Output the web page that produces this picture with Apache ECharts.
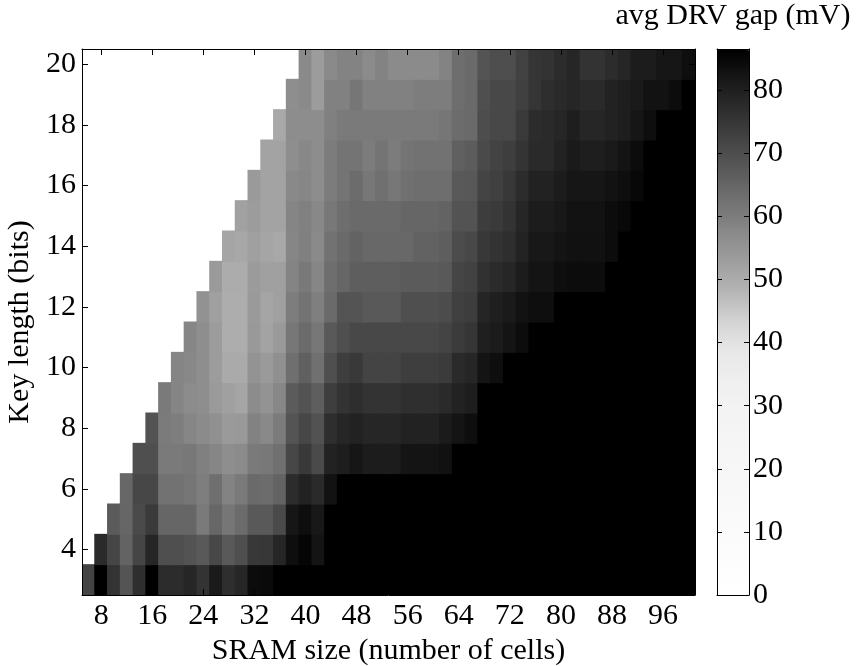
<!DOCTYPE html>
<html>
<head>
<meta charset="utf-8">
<title>avg DRV gap</title>
<script src="https://cdn.jsdelivr.net/npm/echarts@6/dist/echarts.min.js"></script>
<style>
  html, body { margin: 0; padding: 0; background: #fff; }
  #chart { width: 859px; height: 666px; }
</style>
</head>
<body>
<div id="chart"></div>
<script>
// SRAM size (number of cells) at each column centre
const sramSizes = [6, 8, 10, 12, 14, 16, 18, 20, 22, 24, 26, 28, 30, 32, 34, 36, 38, 40,
  42, 44, 46, 48, 50, 52, 54, 56, 58, 60, 62, 64, 66, 68, 70, 72, 74, 76, 78, 80,
  82, 84, 86, 88, 90, 92, 94, 96, 98, 100];
// key length (bits) for each row, bottom to top
const keyLengths = [3, 4, 5, 6, 7, 8, 9, 10, 11, 12, 13, 14, 15, 16, 17, 18, 19, 20];

const sramTicks = [8, 16, 24, 32, 40, 48, 56, 64, 72, 80, 88, 96];
const keyTicks = [4, 6, 8, 10, 12, 14, 16, 18, 20];
const gapTicks = [0, 10, 20, 30, 40, 50, 60, 70, 80];
const gapMax = 86.5;

// average DRV gap (mV); one row per key length, one entry per SRAM size (null = not measured)
const gapKey3 = [72.1, 86.5, 75.7, 68.5, 76.7, 86.5, 77.2, 77.2, 78.4, 75.7, 81.0, 76.7, 78.4, 84.0, 84.4, 86.5,
  86.5, 86.5, 86.5, 86.5, 86.5, 86.5, 86.5, 86.5, 86.5, 86.5, 86.5, 86.5, 86.5, 86.5, 86.5, 86.5,
  86.5, 86.5, 86.5, 86.5, 86.5, 86.5, 86.5, 86.5, 86.5, 86.5, 86.5, 86.5, 86.5, 86.5, 86.5, 86.5];
const gapKey4 = [null, 77.6, 71.9, 65.5, 71.9, 78.4, 69.7, 69.7, 68.9, 67.6, 71.2, 67.4, 69.7, 74.6, 74.8, 78.4,
  83.5, 85.4, 82.3, 86.5, 86.5, 86.5, 86.5, 86.5, 86.5, 86.5, 86.5, 86.5, 86.5, 86.5, 86.5, 86.5,
  86.5, 86.5, 86.5, 86.5, 86.5, 86.5, 86.5, 86.5, 86.5, 86.5, 86.5, 86.5, 86.5, 86.5, 86.5, 86.5];
const gapKey5 = [null, null, 67.0, 64.8, 70.8, 74.2, 64.8, 64.8, 64.8, 60.6, 64.6, 61.4, 63.8, 67.6, 67.4, 70.8,
  82.0, 83.5, 81.4, 86.5, 86.5, 86.5, 86.5, 86.5, 86.5, 86.5, 86.5, 86.5, 86.5, 86.5, 86.5, 86.5,
  86.5, 86.5, 86.5, 86.5, 86.5, 86.5, 86.5, 86.5, 86.5, 86.5, 86.5, 86.5, 86.5, 86.5, 86.5, 86.5];
const gapKey6 = [null, null, null, 64.6, 71.4, 71.4, 62.3, 62.3, 61.4, 59.8, 62.9, 58.7, 60.6, 64.0, 63.6, 65.3,
  77.2, 79.3, 77.6, 82.7, 86.5, 86.5, 86.5, 86.5, 86.5, 86.5, 86.5, 86.5, 86.5, 86.5, 86.5, 86.5,
  86.5, 86.5, 86.5, 86.5, 86.5, 86.5, 86.5, 86.5, 86.5, 86.5, 86.5, 86.5, 86.5, 86.5, 86.5, 86.5];
const gapKey7 = [null, null, null, null, 69.7, 69.7, 60.6, 60.6, 61.0, 59.3, 58.0, 56.4, 57.0, 60.6, 61.0, 62.7,
  71.4, 74.4, 70.8, 79.3, 80.1, 81.8, 80.6, 80.6, 80.6, 82.3, 82.3, 82.3, 82.9, 86.5, 86.5, 86.5,
  86.5, 86.5, 86.5, 86.5, 86.5, 86.5, 86.5, 86.5, 86.5, 86.5, 86.5, 86.5, 86.5, 86.5, 86.5, 86.5];
const gapKey8 = [null, null, null, null, null, 68.7, 60.4, 59.8, 58.0, 57.0, 55.9, 53.8, 54.0, 58.9, 57.4, 60.4,
  68.5, 71.5, 69.0, 76.7, 78.4, 79.3, 78.4, 78.4, 78.4, 79.3, 79.3, 79.3, 80.8, 82.3, 83.5, 86.5,
  86.5, 86.5, 86.5, 86.5, 86.5, 86.5, 86.5, 86.5, 86.5, 86.5, 86.5, 86.5, 86.5, 86.5, 86.5, 86.5];
const gapKey9 = [null, null, null, null, null, null, 60.6, 58.2, 56.8, 56.4, 53.8, 52.5, 51.5, 56.8, 55.3, 57.8,
  67.0, 68.9, 66.5, 73.3, 75.7, 76.7, 75.7, 75.7, 75.7, 76.5, 76.5, 76.5, 77.6, 79.3, 80.1, 86.5,
  86.5, 86.5, 86.5, 86.5, 86.5, 86.5, 86.5, 86.5, 86.5, 86.5, 86.5, 86.5, 86.5, 86.5, 86.5, 86.5];
const gapKey10 = [null, null, null, null, null, null, null, 58.2, 57.6, 56.4, 53.2, 50.4, 50.4, 55.3, 53.8, 55.9,
  62.9, 66.1, 62.7, 69.7, 73.3, 74.4, 72.1, 72.1, 72.1, 73.3, 73.3, 73.3, 74.0, 77.6, 78.4, 82.3,
  83.5, 86.5, 86.5, 86.5, 86.5, 86.5, 86.5, 86.5, 86.5, 86.5, 86.5, 86.5, 86.5, 86.5, 86.5, 86.5];
const gapKey11 = [null, null, null, null, null, null, null, null, 58.0, 56.4, 53.2, 49.8, 49.8, 54.0, 51.9, 53.8,
  61.2, 63.8, 61.2, 67.6, 69.7, 71.2, 71.2, 71.2, 71.2, 71.2, 71.2, 71.2, 72.1, 74.0, 75.0, 79.9,
  80.8, 82.3, 84.0, 86.5, 86.5, 86.5, 86.5, 86.5, 86.5, 86.5, 86.5, 86.5, 86.5, 86.5, 86.5, 86.5];
const gapKey12 = [null, null, null, null, null, null, null, null, null, 55.5, 52.5, 49.8, 49.8, 53.8, 51.5, 52.5,
  60.0, 62.0, 59.5, 64.0, 68.5, 68.5, 67.6, 67.6, 67.6, 69.7, 69.7, 69.7, 70.4, 72.9, 73.5, 78.6,
  79.9, 81.0, 82.7, 83.5, 83.5, 86.5, 86.5, 86.5, 86.5, 86.5, 86.5, 86.5, 86.5, 86.5, 86.5, 86.5];
const gapKey13 = [null, null, null, null, null, null, null, null, null, null, 53.8, 50.0, 50.0, 53.6, 52.5, 52.5,
  58.5, 60.8, 58.0, 63.1, 64.8, 66.5, 66.5, 66.5, 66.5, 67.0, 67.0, 67.0, 67.6, 71.9, 72.5, 76.1,
  77.4, 78.4, 80.5, 82.3, 82.3, 83.5, 84.0, 84.0, 84.0, 86.5, 86.5, 86.5, 86.5, 86.5, 86.5, 86.5];
const gapKey14 = [null, null, null, null, null, null, null, null, null, null, null, 51.5, 50.8, 52.5, 51.5, 50.8,
  58.0, 59.3, 57.2, 62.3, 64.0, 65.3, 64.4, 64.4, 64.4, 64.4, 65.7, 65.7, 66.5, 70.4, 71.2, 74.6,
  75.7, 76.7, 79.0, 81.4, 81.4, 82.3, 82.9, 82.9, 82.9, 84.0, 86.5, 86.5, 86.5, 86.5, 86.5, 86.5];
const gapKey15 = [null, null, null, null, null, null, null, null, null, null, null, null, 52.3, 53.2, 51.9, 51.9,
  58.3, 59.3, 57.6, 61.0, 63.1, 64.0, 64.0, 64.0, 64.0, 64.8, 64.8, 64.8, 65.3, 68.7, 68.9, 73.5,
  74.2, 75.7, 78.5, 80.6, 80.6, 81.4, 82.7, 82.7, 82.7, 84.0, 84.8, 86.5, 86.5, 86.5, 86.5, 86.5];
const gapKey16 = [null, null, null, null, null, null, null, null, null, null, null, null, null, 53.8, 51.9, 51.9,
  57.4, 58.0, 56.6, 60.2, 61.9, 63.6, 61.2, 62.7, 61.2, 62.7, 63.1, 63.1, 63.1, 67.4, 67.8, 72.1,
  72.9, 74.6, 77.0, 79.3, 79.3, 80.6, 81.8, 81.8, 81.8, 82.7, 83.5, 84.8, 86.5, 86.5, 86.5, 86.5];
const gapKey17 = [null, null, null, null, null, null, null, null, null, null, null, null, null, null, 51.9, 51.9,
  56.4, 57.6, 56.6, 60.2, 61.9, 61.9, 60.2, 61.9, 60.2, 61.9, 62.3, 62.3, 62.3, 66.1, 66.8, 70.8,
  72.3, 73.3, 75.5, 77.6, 77.6, 79.3, 81.0, 80.1, 80.1, 81.0, 82.3, 84.0, 86.5, 86.5, 86.5, 86.5];
const gapKey18 = [null, null, null, null, null, null, null, null, null, null, null, null, null, null, null, 50.8,
  56.6, 56.6, 56.6, 59.3, 60.6, 60.6, 60.6, 60.6, 60.6, 60.6, 60.6, 60.6, 61.4, 63.6, 64.0, 70.2,
  71.2, 71.2, 74.2, 77.0, 77.6, 78.4, 80.1, 78.4, 78.4, 79.3, 80.1, 81.8, 83.5, 86.5, 86.5, 86.5];
const gapKey19 = [null, null, null, null, null, null, null, null, null, null, null, null, null, null, null, null,
  56.4, 57.2, 53.2, 59.1, 59.1, 61.4, 59.1, 59.1, 59.1, 59.1, 60.0, 60.0, 60.0, 63.1, 64.0, 69.7,
  71.2, 71.2, 73.0, 75.2, 76.7, 77.6, 78.4, 77.6, 77.6, 79.3, 80.1, 81.0, 82.7, 82.7, 84.0, 86.5];
const gapKey20 = [null, null, null, null, null, null, null, null, null, null, null, null, null, null, null, null,
  null, 57.2, 53.2, 57.2, 58.7, 58.7, 57.0, 58.7, 57.0, 57.0, 57.0, 57.0, 58.7, 63.1, 64.0, 68.5,
  70.0, 70.0, 72.5, 75.2, 75.7, 77.2, 78.4, 75.7, 75.7, 77.2, 78.4, 80.6, 80.6, 81.8, 81.8, 83.5];

const gapRows = [gapKey3, gapKey4, gapKey5, gapKey6, gapKey7, gapKey8, gapKey9, gapKey10, gapKey11,
  gapKey12, gapKey13, gapKey14, gapKey15, gapKey16, gapKey17, gapKey18, gapKey19, gapKey20];

// white-to-black map, evenly spaced stops from 0 to gapMax
const grayLevels = [255, 253, 251, 249, 247, 245, 243, 239, 232, 212, 181, 158, 136, 113, 90, 68, 45, 23, 0];
const colorStops = grayLevels.map(g => `rgb(${g},${g},${g})`);

const cellData = [];
gapRows.forEach((row, yi) => {
  row.forEach((v, xi) => {
    if (v !== null) cellData.push([xi, yi, v]);
  });
});

const FONT = "'Liberation Serif', 'Times New Roman', serif";
const FS = 30;
const BLACK = '#000';

const showSram = idx => sramTicks.includes(sramSizes[idx]);
const showKey = idx => keyTicks.includes(keyLengths[idx]);

const plot = { left: 82, top: 49, width: 613, height: 546 };
const bar = { left: 717, top: 49, width: 32, height: 546 };

// one filled rectangle per cell, padded by half a pixel so neighbours meet without seams
function renderCell(params, api) {
  const c = api.coord([api.value(0), api.value(1)]);
  const s = api.size([1, 1]);
  return {
    type: 'rect',
    shape: { x: c[0] - s[0] / 2 - 0.5, y: c[1] - s[1] / 2 - 0.5, width: s[0] + 1, height: s[1] + 1 },
    style: { fill: api.visual('color') }
  };
}

const chart = echarts.init(document.getElementById('chart'), null, { renderer: 'canvas' });

chart.setOption({
  animation: false,
  backgroundColor: '#fff',
  grid: [
    { left: plot.left, top: plot.top, width: plot.width, height: plot.height, outerBoundsMode: 'none' },
    { left: bar.left, top: bar.top, width: bar.width, height: bar.height, outerBoundsMode: 'none' }
  ],
  xAxis: [
    {
      type: 'category', gridIndex: 0, position: 'bottom', z: 5,
      data: sramSizes.map(String),
      axisLine: { show: true, lineStyle: { color: BLACK, width: 1 } },
      axisTick: { show: true, inside: true, length: 6, alignWithLabel: true, interval: showSram,
        lineStyle: { color: BLACK } },
      axisLabel: { show: true, interval: showSram, color: BLACK, fontFamily: FONT, fontSize: FS, margin: 6 },
      splitLine: { show: false },
      name: 'SRAM size (number of cells)', nameLocation: 'middle', nameGap: 40,
      nameTextStyle: { color: BLACK, fontFamily: FONT, fontSize: FS }
    },
    {
      type: 'category', gridIndex: 0, position: 'top', z: 5,
      data: sramSizes.map(String),
      axisLine: { show: true, lineStyle: { color: BLACK, width: 1 } },
      axisTick: { show: true, inside: true, length: 6, alignWithLabel: true, interval: showSram,
        lineStyle: { color: BLACK } },
      axisLabel: { show: false },
      splitLine: { show: false }
    },
    {
      type: 'value', gridIndex: 1, position: 'bottom', min: 0, max: 1, z: 10,
      axisLine: { show: true, onZero: false, lineStyle: { color: BLACK, width: 1 } },
      axisTick: { show: false }, axisLabel: { show: false }, splitLine: { show: false }
    },
    {
      type: 'value', gridIndex: 1, position: 'top', min: 0, max: 1, z: 10,
      axisLine: { show: true, onZero: false, lineStyle: { color: BLACK, width: 1 } },
      axisTick: { show: false }, axisLabel: { show: false }, splitLine: { show: false }
    }
  ],
  yAxis: [
    {
      type: 'category', gridIndex: 0, position: 'left', z: 5,
      data: keyLengths.map(String),
      axisLine: { show: true, lineStyle: { color: BLACK, width: 1 } },
      axisTick: { show: true, inside: true, length: 6, alignWithLabel: true, interval: showKey,
        lineStyle: { color: BLACK } },
      axisLabel: { show: true, interval: showKey, color: BLACK, fontFamily: FONT, fontSize: FS, margin: 6 },
      splitLine: { show: false },
      name: 'Key length (bits)', nameLocation: 'middle', nameGap: 38,
      nameTextStyle: { color: BLACK, fontFamily: FONT, fontSize: FS }
    },
    {
      type: 'category', gridIndex: 0, position: 'right', z: 5,
      data: keyLengths.map(String),
      axisLine: { show: true, lineStyle: { color: BLACK, width: 1 } },
      axisTick: { show: true, inside: true, length: 6, alignWithLabel: true, interval: showKey,
        lineStyle: { color: BLACK } },
      axisLabel: { show: false },
      splitLine: { show: false }
    },
    {
      type: 'value', gridIndex: 1, position: 'left', min: 0, max: gapMax, interval: 10, z: 10,
      axisLine: { show: true, onZero: false, lineStyle: { color: BLACK, width: 1 } },
      axisTick: { show: true, inside: true, length: 5, lineStyle: { color: BLACK } },
      axisLabel: { show: false },
      splitLine: { show: false }
    },
    {
      type: 'value', gridIndex: 1, position: 'right', min: 0, max: gapMax, interval: 10, z: 10,
      axisLine: { show: true, onZero: false, lineStyle: { color: BLACK, width: 1 } },
      axisTick: { show: true, inside: true, length: 5, lineStyle: { color: BLACK } },
      axisLabel: {
        show: true, showMaxLabel: false, color: BLACK, fontFamily: FONT, fontSize: FS, margin: 4,
        formatter: v => (gapTicks.includes(v) ? String(v) : '')
      },
      splitLine: { show: false }
    }
  ],
  visualMap: {
    type: 'continuous',
    min: 0, max: gapMax,
    seriesIndex: 0, dimension: 2,
    calculable: false, hoverLink: false,
    orient: 'vertical',
    left: bar.left, top: bar.top,
    itemWidth: bar.width, itemHeight: bar.height,
    padding: 0,
    inRange: { color: colorStops }
  },
  graphic: [
    {
      type: 'text', x: bar.left + bar.width / 2, y: 16, z: 10,
      style: {
        text: 'avg DRV gap (mV)', fill: BLACK, font: `${FS}px ${FONT}`,
        textAlign: 'center', textVerticalAlign: 'middle'
      }
    }
  ],
  series: [
    {
      type: 'custom', xAxisIndex: 0, yAxisIndex: 0,
      renderItem: renderCell,
      encode: { x: 0, y: 1 },
      data: cellData,
      clip: true,
      silent: true
    }
  ]
});
</script>
</body>
</html>
